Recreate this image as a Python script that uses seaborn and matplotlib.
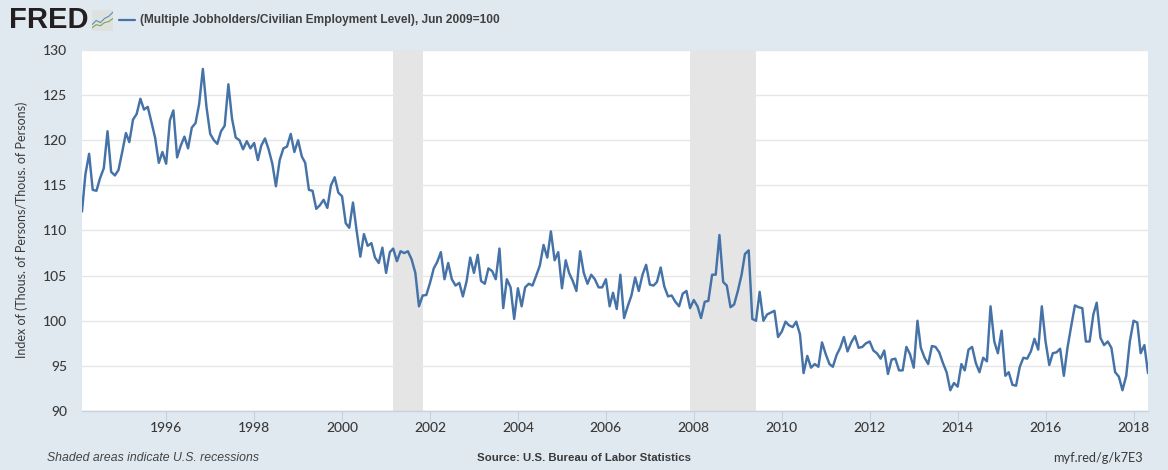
import matplotlib
matplotlib.use("Agg")
import matplotlib.pyplot as plt
import pandas as pd
import seaborn as sns

values_1994_2000 = [
    112.1, 116.2, 118.5, 114.5, 114.4, 115.8, 116.9, 121.0, 116.5, 116.1, 116.7, 118.7,
    120.8, 119.8, 122.3, 122.9, 124.6, 123.4, 123.7, 122.0, 120.3, 117.5, 118.7, 117.4,
    122.2, 123.3, 118.1, 119.4, 120.4, 119.1, 121.4, 121.9, 124.0, 127.9, 123.7, 120.7,
    120.0, 119.6, 121.0, 121.6, 126.2, 122.4, 120.3, 120.0, 119.0, 119.9, 119.1, 119.7,
    117.8, 119.4, 120.2, 119.0, 117.4, 114.9, 117.8, 119.1, 119.3, 120.7, 118.7, 120.0,
    118.2, 117.5, 114.5, 114.4, 112.4, 112.8, 113.4, 112.5, 115.0, 115.9, 114.2, 113.8,
    110.8, 110.3, 113.1,
]
values_2000_2007 = [
    110.0, 107.1, 109.6, 108.3, 108.6, 107.0, 106.4, 108.1, 105.3, 107.6, 108.0,
    106.6, 107.7, 107.5, 107.7, 106.8, 105.3, 101.6, 102.8, 102.85, 104.2, 105.8, 106.5,
    107.6, 104.6, 106.4, 104.6, 103.9, 104.2, 102.7, 104.4, 107.0, 105.3, 107.3, 104.4,
    104.1, 105.8, 105.5, 104.6, 108.0, 101.4, 104.6, 103.7, 100.2, 103.6, 101.6, 103.7,
    104.1, 103.9, 105.0, 106.1, 108.4, 107.0, 109.9, 106.7, 107.6, 103.6, 106.7, 105.3,
    104.4, 103.3, 107.7, 105.3, 104.1, 105.1, 104.6, 103.7, 103.7, 104.6, 101.6, 103.1,
    101.3, 105.1, 100.3, 101.6, 102.8, 104.8, 103.3, 105.1, 106.2, 104.0, 103.9, 104.3,
    105.9, 103.8, 102.7, 102.8, 102.1, 101.6,
]
values_2007_2013 = [
    103.0, 103.3, 101.4, 102.3, 101.6, 100.3, 102.1, 102.2, 105.1, 105.1, 109.5,
    104.3, 103.9, 101.5, 101.8, 103.3, 105.1, 107.4, 107.8, 100.2, 100.0, 103.2, 100.0,
    100.7, 100.9, 101.1, 98.2, 98.8, 99.9, 99.5, 99.3, 99.9, 98.5, 94.2, 96.1, 94.8,
    95.2, 94.9, 97.6, 96.3, 95.2, 94.9, 96.2, 97.0, 98.2, 96.6, 97.6, 98.3, 97.0, 97.1,
    97.5, 97.7, 96.7, 96.4, 95.8, 96.7, 94.1, 95.7, 95.8, 94.5, 94.5, 97.1, 96.3, 94.8,
    100.0,
]
values_2013_2018 = [
    97.0, 95.9, 95.2, 97.2, 97.1, 96.5, 95.3, 94.3, 92.3, 93.1, 92.7, 95.2, 94.5,
    96.8, 97.1, 95.3, 94.3, 95.9, 95.5, 101.6, 97.7, 96.4, 98.9, 93.9, 94.3, 92.9, 92.8,
    94.9, 95.9, 95.8, 96.6, 98.0, 96.8, 101.6, 97.7, 95.1, 96.4, 96.5, 96.9, 93.9, 97.0,
    99.4, 101.7, 101.5, 101.4, 97.7, 97.7, 100.7, 102.0, 98.1, 97.3, 97.7, 97.0, 94.3,
    93.8, 92.3, 93.9, 97.7, 100.0, 99.8, 96.4, 97.3, 94.2,
]
index_values = values_1994_2000 + values_2000_2007 + values_2007_2013 + values_2013_2018
dates = pd.date_range("1994-02-01", periods=len(index_values), freq="MS")

recession_spans = [("2001-03-01", "2001-11-01"), ("2007-12-01", "2009-06-01")]
x_tick_years = list(range(1996, 2019, 2))
y_ticks = [90, 95, 100, 105, 110, 115, 120, 125, 130]

title = "(Multiple Jobholders/Civilian Employment Level), Jun 2009=100"
y_label = "Index of (Thous. of Persons/Thous. of Persons)"
footer_left = "Shaded areas indicate U.S. recessions"
footer_mid = "Source: U.S. Bureau of Labor Statistics"
footer_right = "myf.red/g/k7E3"

BG = "#E1E9F0"
LINE = "#4572A7"
TXT = "#3a3a3a"
W, H = 1168, 470
SANS = ["Liberation Sans", "DejaVu Sans"]
ROUND = ["Lato", "DejaVu Sans"]

sns.set_theme(style="white")
plt.rcParams["font.family"] = SANS

fig = plt.figure(figsize=(W / 100, H / 100), dpi=100, facecolor=BG)
ax = fig.add_axes([82 / W, 1 - 411 / H, (1148 - 82) / W, (411 - 50) / H], facecolor="white")

frame = pd.DataFrame({"date": dates, "value": index_values})
sns.lineplot(data=frame, x="date", y="value", color=LINE, linewidth=1.75, ax=ax, zorder=3)

for start, end in recession_spans:
    ax.axvspan(pd.Timestamp(start), pd.Timestamp(end), facecolor="#E5E5E5", edgecolor="none",
               linewidth=0, zorder=2)

ax.set_xlim(dates[0], dates[-1])
ax.set_ylim(90, 130)
ax.set_yticks(y_ticks)
ax.set_xticks([pd.Timestamp(f"{y}-01-01") for y in x_tick_years])
ax.set_xticklabels([str(y) for y in x_tick_years])
ax.grid(True, axis="y", color="#E6E6E6", linewidth=1, zorder=1)
ax.grid(False, axis="x")
ax.set_axisbelow(True)
for side in ["top", "right", "left"]:
    ax.spines[side].set_visible(False)
ax.spines["bottom"].set_color("#C5D2E2")
ax.spines["bottom"].set_linewidth(1)
ax.tick_params(axis="x", length=7.2, width=0.8, color="#C5D2E2", labelsize=10, labelcolor=TXT, pad=1, bottom=True)
ax.tick_params(axis="y", length=0, labelsize=10, labelcolor=TXT, pad=10.5)
for lab in ax.get_xticklabels() + ax.get_yticklabels():
    lab.set_family(ROUND)
    lab.set_fontweight("medium")
ax.set_xlabel("")
ax.set_ylabel("")

fig.text(22 / W, 1 - 230 / H, y_label, rotation=90, ha="center", va="center", fontsize=9.0, color=TXT, family=ROUND)
fig.text(140 / W, 1 - 20 / H, title, ha="left", va="center", fontsize=8.55, color="#3f3f3f", fontweight="bold")
fig.add_artist(plt.Line2D([119 / W, 135 / W], [1 - 20 / H, 1 - 20 / H], color=LINE, linewidth=1.6))
fig.text(9 / W, 1 - 20.5 / H, "FRED", ha="left", va="center", fontsize=21, color="#231F20", fontweight="bold")
fig.text(47 / W, 1 - 458 / H, footer_left, ha="left", va="center", fontsize=8.8, color="#444444", style="italic")
fig.text(477 / W, 1 - 458 / H, footer_mid, ha="left", va="center", fontsize=8.2, color="#3a3a3a", fontweight="bold")
fig.text(1143 / W, 1 - 458 / H, footer_right, ha="right", va="center", fontsize=9.2, color="#3a3a3a", family=ROUND)

icon = fig.add_axes([92 / W, 1 - 31 / H, 21 / W, 21 / H], facecolor="#DDE2E0")
icon.plot([0, 2, 4, 6, 8, 10], [3, 5, 4, 6, 7, 9], color="#5B8DB8", lw=0.8)
icon.plot([0, 2, 4, 6, 8, 10], [1.5, 3, 2.5, 4, 4.5, 6], color="#7FA34D", lw=0.8)
icon.set_xlim(0, 10)
icon.set_ylim(0, 10)
icon.set_xticks([])
icon.set_yticks([])
for s in icon.spines.values():
    s.set_visible(False)

fig.savefig("out.png", dpi=100, facecolor=BG)
